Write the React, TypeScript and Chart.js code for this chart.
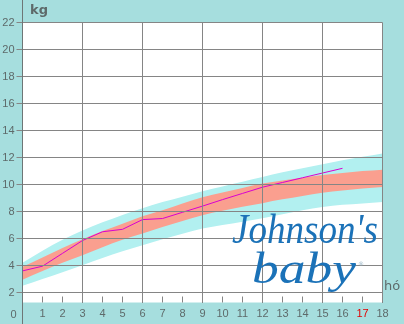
import React, { useEffect, useRef } from "react";
import { Chart, registerables } from "chart.js";

Chart.register(...registerables);

// ---- data ----
const months = [0, 1, 2, 3, 4, 5, 6, 7, 8, 9, 10, 11, 12, 13, 14, 15, 16, 17, 18];
const childMonths = [0, 1, 2, 3, 4, 5, 6, 7, 8, 9, 10, 11, 12, 13, 14, 15, 16];
const childWeight = [3.6, 3.95, 4.9, 5.85, 6.5, 6.68, 7.4, 7.48, 7.94, 8.4, 8.88, 9.34, 9.8, 10.15, 10.5, 10.85, 11.2];
const outerUpper = [4.2, 5.1, 5.9, 6.6, 7.2, 7.75, 8.25, 8.7, 9.1, 9.5, 9.85, 10.2, 10.55, 10.9, 11.2, 11.5, 11.8, 12.05, 12.3];
const innerUpper = [3.9, 4.6, 5.3, 5.95, 6.55, 7.1, 7.65, 8.1, 8.6, 9.05, 9.4, 9.75, 10.07, 10.3, 10.5, 10.7, 10.85, 11.0, 11.1];
const innerLower = [2.95, 3.6, 4.2, 4.76, 5.35, 5.9, 6.37, 6.85, 7.3, 7.73, 8.05, 8.35, 8.62, 8.9, 9.15, 9.38, 9.55, 9.7, 9.82];
const outerLower = [2.5, 3.0, 3.5, 4.02, 4.55, 5.05, 5.5, 5.95, 6.35, 6.74, 7.0, 7.25, 7.5, 7.8, 8.1, 8.34, 8.5, 8.6, 8.71];
const yTickValues = [2, 4, 6, 8, 10, 12, 14, 16, 18, 20, 22];
const xTickLabels = ["0", "1", "2", "3", "4", "5", "6", "7", "8", "9", "10", "11", "12", "13", "14", "15", "16", "17", "18"];
const highlightMonth = 17;

const TEAL = "#a6dede";
const CYAN = "#b2f0f0";
const SALMON = "#fa9f8f";
const LINE = "#d800d0";
const GRID = "#858585";
const TEXT = "#5e6a6a";
const FONT = "'Liberation Sans', Arial, sans-serif";

const pts = (xs: number[], ys: number[]) => xs.map((x, i) => ({ x, y: ys[i] }));

const framePlugin = {
  id: "frame",
  beforeDraw(chart: any) {
    const { ctx, chartArea: a } = chart;
    ctx.save();
    ctx.fillStyle = "#ffffff";
    ctx.fillRect(a.left, a.top, a.right - a.left, a.bottom - a.top);
    ctx.restore();
  },
  afterDraw(chart: any) {
    const { ctx, chartArea: a } = chart;
    const xs = chart.scales.x;
    ctx.save();
    ctx.strokeStyle = GRID;
    ctx.lineWidth = 1;
    // small month ticks inside plot bottom
    ctx.beginPath();
    for (const m of months) {
      const px = Math.floor(xs.getPixelForValue(m)) + 0.5;
      ctx.moveTo(px, a.bottom - 6);
      ctx.lineTo(px, a.bottom);
    }
    ctx.stroke();
    // y axis line across the full height
    const lx = Math.floor(a.left) + 0.5;
    ctx.strokeStyle = "#6e7676";
    ctx.beginPath();
    ctx.moveTo(lx, 0);
    ctx.lineTo(lx, chart.height);
    ctx.stroke();
    // "0" label at left of the axis row
    ctx.fillStyle = TEXT;
    ctx.font = `11px ${FONT}`;
    ctx.textAlign = "right";
    ctx.textBaseline = "middle";
    ctx.fillText(xTickLabels[0], a.left - 6, a.bottom + 12);
    ctx.restore();
  },
};

export default function App() {
  const ref = useRef<HTMLCanvasElement | null>(null);

  useEffect(() => {
    if (!ref.current) return;
    const chart = new Chart(ref.current, {
      type: "line",
      data: {
        datasets: [
          {
            data: pts(childMonths, childWeight),
            borderColor: LINE,
            borderWidth: 1,
            pointRadius: 0,
            tension: 0,
            fill: false,
          },
          {
            data: pts(months, innerUpper),
            borderWidth: 0,
            borderColor: "rgba(0,0,0,0)",
            backgroundColor: SALMON,
            pointRadius: 0,
            cubicInterpolationMode: "monotone",
            fill: "+1",
          },
          {
            data: pts(months, innerLower),
            borderWidth: 0,
            borderColor: "rgba(0,0,0,0)",
            pointRadius: 0,
            cubicInterpolationMode: "monotone",
            fill: false,
          },
          {
            data: pts(months, outerUpper),
            borderWidth: 0,
            borderColor: "rgba(0,0,0,0)",
            backgroundColor: CYAN,
            pointRadius: 0,
            cubicInterpolationMode: "monotone",
            fill: "+1",
          },
          {
            data: pts(months, outerLower),
            borderWidth: 0,
            borderColor: "rgba(0,0,0,0)",
            pointRadius: 0,
            cubicInterpolationMode: "monotone",
            fill: false,
          },
        ],
      },
      options: {
        animation: false,
        responsive: false,
        events: [],
        layout: { padding: { left: 0, top: 22.5, right: 21.5, bottom: 0 } },
        plugins: { legend: { display: false }, tooltip: { enabled: false } },
        scales: {
          x: {
            type: "linear",
            min: months[0],
            max: months[months.length - 1],
            afterFit: (s: any) => {
              s.height = 21.5;
            },
            afterBuildTicks: (s: any) => {
              s.ticks = months.map((v) => ({ value: v }));
            },
            ticks: {
              autoSkip: false,
              maxRotation: 0,
              padding: 5,
              font: { family: FONT, size: 11 },
              color: (c: any) => (c.tick && c.tick.value === highlightMonth ? "#e00000" : TEXT),
              callback: (v: any) => (v === 0 ? "" : xTickLabels[v]),
            },
            grid: {
              z: 1,
              drawTicks: false,
              color: (c: any) => (c.tick && c.tick.value % 3 === 0 ? GRID : "rgba(0,0,0,0)"),
            },
            border: { display: false },
          },
          y: {
            type: "linear",
            min: 22 - 280 / 13.5,
            max: 22,
            afterFit: (s: any) => {
              s.width = 22.5;
            },
            afterBuildTicks: (s: any) => {
              s.ticks = yTickValues.map((v) => ({ value: v }));
            },
            ticks: {
              padding: 2,
              font: { family: FONT, size: 11 },
              color: TEXT,
              callback: (v: any) => String(v),
            },
            grid: { z: 1, color: GRID, tickLength: 6, drawTicks: true },
            border: { display: false },
          },
        },
      } as any,
      plugins: [framePlugin],
    });
    return () => chart.destroy();
  }, []);

  return (
    <div style={{ position: "absolute", left: 0, top: 0, width: 404, height: 324, background: TEAL, overflow: "hidden" }}>
      <canvas ref={ref} width={404} height={324} style={{ position: "absolute", left: 0, top: 0 }} />
      <span
        style={{
          position: "absolute",
          left: 30,
          top: 2,
          font: `bold 13px 'DejaVu Sans', Verdana, sans-serif`,
          color: TEXT,
        }}
      >
        kg
      </span>
      <span
        style={{
          position: "absolute",
          left: 384,
          top: 278,
          font: `13px 'DejaVu Sans', Verdana, sans-serif`,
          color: TEXT,
        }}
      >
        hó
      </span>
      <svg width={404} height={324} style={{ position: "absolute", left: 0, top: 0, pointerEvents: "none" }}>
        <text
          x={232}
          y={243}
          textLength={146}
          lengthAdjust="spacingAndGlyphs"
          fill="#1b72b8"
          fontFamily="'Liberation Serif', 'DejaVu Serif', serif"
          fontStyle="italic"
          fontSize={42}
        >
          Johnson's
        </text>
        <text
          x={252}
          y={283}
          textLength={104}
          lengthAdjust="spacingAndGlyphs"
          fill="#1b72b8"
          fontFamily="'Liberation Serif', 'DejaVu Serif', serif"
          fontStyle="italic"
          fontSize={44}
        >
          baby
        </text>
        <text x={358} y={266} fill="#9db8c8" fontFamily="'DejaVu Sans', sans-serif" fontSize={6}>
          ®
        </text>
      </svg>
    </div>
  );
}
